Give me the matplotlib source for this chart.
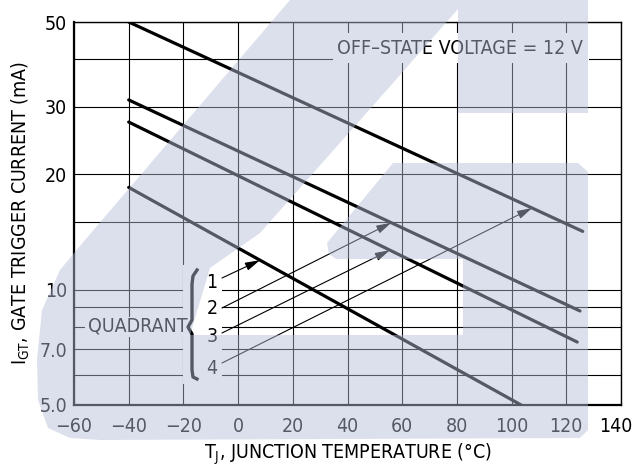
import numpy as np
import matplotlib.pyplot as plt
from matplotlib.transforms import ScaledTranslation
from matplotlib.patches import Rectangle, Polygon

plt.rcParams['font.family'] = ['DejaVu Sans']
plt.rcParams['font.stretch'] = 'condensed'
plt.rcParams['mathtext.fontset'] = 'custom'
plt.rcParams['mathtext.rm'] = 'DejaVu Sans:stretch=condensed'

# Data: end points of the straight (log scale) curves, one per quadrant
temp_q1 = [-40, 103.5]
igt_q1 = [18.5, 5.0]
temp_q2 = [-40, 125]
igt_q2 = [31.3, 8.8]
temp_q3 = [-40, 124]
igt_q3 = [27.4, 7.3]
temp_q4 = [-40, 126]
igt_q4 = [50.0, 14.2]

# where each quadrant arrow hits its curve (deg C)
arrow_temp = [8, 56, 55.5, 107.5]

xticks = [-60, -40, -20, 0, 20, 40, 60, 80, 100, 120, 140]
xticklabels = ['\u221260', '\u221240', '\u221220', '0', '20', '40', '60', '80', '100', '120', '140']
yticks = [5, 7, 10, 20, 30, 50]
yticklabels = ['5.0', '7.0', '10', '20', '30', '50']
yminor = [6, 8, 9, 15, 40]

W, H = 636, 470

def fpx(x, y):
    # pixel (from top-left) -> figure fraction
    return (x / W, 1 - y / H)

fig = plt.figure(figsize=(W / 100, H / 100), dpi=100)
ax = fig.add_axes([74 / W, 1 - 405 / H, 547 / W, 383 / H])

ax.set_yscale('log')
ax.set_xlim(-60, 140)
ax.set_ylim(5, 50)
ax.set_xticks(xticks)
ax.set_xticklabels(xticklabels)
ax.set_yticks(yticks)
ax.set_yticklabels(yticklabels)
ax.set_yticks(yminor, minor=True)
ax.yaxis.set_minor_formatter(plt.NullFormatter())
ax.tick_params(which='both', length=0, labelsize=14)
ax.tick_params(axis='x', pad=9)
ax.tick_params(axis='y', pad=5)
ax.set_axisbelow(True)
ax.grid(which='both', color='black', linewidth=0.8)
for s in ['left', 'bottom']:
    ax.spines[s].set_linewidth(1.6)
for s in ['top', 'right']:
    ax.spines[s].set_linewidth(1.0)

# nudge the last x label inwards so it stays inside the picture
last = ax.get_xticklabels()[-1]
last.set_transform(last.get_transform() + ScaledTranslation(-4 / 72, 0, fig.dpi_scale_trans))

# white knock-out areas behind the labels
for (x0, y0, x1, y1) in [(333, 33, 589, 63), (85, 317, 186, 337), (183, 265, 222, 384)]:
    a = fpx(x0, y1)
    b = fpx(x1, y0)
    ax.add_patch(Rectangle(a, b[0] - a[0], b[1] - a[1], transform=fig.transFigure,
                           facecolor='white', edgecolor='none', zorder=1))

curves = [(temp_q1, igt_q1), (temp_q2, igt_q2), (temp_q3, igt_q3), (temp_q4, igt_q4)]
for t, i in curves:
    ax.plot(t, i, color='black', linewidth=2.3, solid_capstyle='round', zorder=2)

ax.text(460 / W, 1 - 49 / H, 'OFF\u2013STATE VOLTAGE = 12 V', transform=fig.transFigure,
        ha='center', va='center', fontsize=14, zorder=3)
ax.text(138 / W, 1 - 326 / H, 'QUADRANT', transform=fig.transFigure,
        ha='center', va='center', fontsize=14, zorder=3)

# brace
bx = [197, 193, 192, 192, 188, 192, 192, 193, 197]
by = [270, 276, 284, 320, 327, 334, 370, 377, 379]
ax.plot([b / W for b in bx], [1 - b / H for b in by], transform=fig.transFigure,
        color='black', linewidth=2.4, solid_joinstyle='round', zorder=3, clip_on=False)

label_y = [282, 309, 336, 368]
start_y = [278, 308, 333, 363]
for k, (t, i) in enumerate(curves):
    ax.text(212 / W, 1 - label_y[k] / H, str(k + 1), transform=fig.transFigure,
            ha='center', va='center', fontsize=14, zorder=3)
    tip = 10 ** np.interp(arrow_temp[k], t, np.log10(i))
    ax.annotate('', xy=(arrow_temp[k], tip), xycoords='data',
                xytext=(222, H - start_y[k]), textcoords='figure pixels',
                arrowprops=dict(arrowstyle='-|>,head_length=0.9,head_width=0.25',
                                color='black', lw=0.8, shrinkA=0, shrinkB=0,
                                mutation_scale=10), zorder=3)

ax.set_xlabel(r'T$_\mathrm{J}$, JUNCTION TEMPERATURE ($\degree$C)', fontsize=14)
ax.set_ylabel(r'I$_\mathrm{GT}$, GATE TRIGGER CURRENT (mA)', fontsize=14)
ax.xaxis.set_label_coords(0.5, -0.094)
ax.yaxis.set_label_coords(-0.077, 0.5)

# light watermark laid over the whole chart
wm_px = [(290, 0), (588, 0), (588, 113), (458, 113), (458, 9), (378, 100), (260, 233),
         (210, 268), (190, 335), (463, 335), (463, 259), (336, 259), (329, 254),
         (327, 243), (393, 163), (578, 163), (588, 172), (588, 430), (580, 438),
         (100, 440), (70, 438), (48, 428), (38, 400), (37, 360), (42, 310),
         (60, 270), (85, 240)]
wm = Polygon([fpx(x, y) for x, y in wm_px], closed=True, transform=fig.transFigure,
             facecolor=(182 / 255, 190 / 255, 215 / 255), alpha=0.47,
             edgecolor='none', zorder=10)
fig.add_artist(wm)

fig.savefig('out.png', dpi=100)
